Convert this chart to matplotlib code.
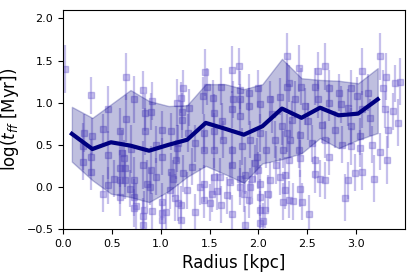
import numpy as np
import matplotlib
matplotlib.use('Agg')
import matplotlib.pyplot as plt

# individual clouds: radius [kpc], log t_ff, error
radius = [0.02, 0.29, 0.46, 0.21, 0.41, 0.20, 0.20, 0.29, 0.29, 0.46,
          0.46, 0.41, 0.30, 0.645, 0.815, 0.73, 0.645, 0.58, 0.84, 0.90,
          0.91, 0.84, 1.01, 1.10, 1.17, 0.58, 0.60, 0.62, 0.63, 0.58,
          0.58, 0.63, 0.73, 0.75, 0.82, 0.815, 0.86, 0.89, 0.90, 1.01,
          1.01, 1.01, 1.01, 1.10, 1.09, 1.17, 1.15, 1.18, 0.82, 0.73,
          0.73, 0.83, 0.91, 0.70, 0.95, 1.45, 1.73, 1.80, 1.23, 1.47,
          1.62, 2.00, 1.81, 1.90, 1.22, 1.29, 1.22, 1.21, 1.43, 1.53,
          1.54, 1.54, 1.63, 1.73, 1.74, 1.81, 1.81, 1.90, 2.02, 2.12,
          2.14, 2.22, 2.24, 2.29, 2.29, 1.18, 1.28, 1.35, 1.44, 1.44,
          1.54, 1.64, 1.73, 1.73, 1.83, 1.91, 1.98, 2.02, 2.08, 2.17,
          2.25, 2.29, 1.16, 1.13, 1.23, 1.27, 1.21, 1.21, 1.35, 1.44,
          1.44, 1.52, 1.62, 1.61, 1.71, 1.73, 1.81, 1.86, 1.90, 1.91,
          2.00, 2.02, 2.02, 2.02, 2.12, 2.22, 2.27, 2.31, 1.40, 1.50,
          1.54, 1.81, 1.85, 1.86, 1.93, 2.02, 2.07, 2.05, 2.25, 2.35,
          2.45, 2.52, 2.43, 2.58, 2.68, 2.63, 2.89, 2.92, 2.99, 3.06,
          3.18, 3.32, 3.24, 3.04, 3.24, 2.68, 2.61, 3.06, 3.31, 3.45,
          3.40, 2.41, 2.31, 2.44, 2.58, 2.72, 2.82, 2.95, 3.01, 3.12,
          3.27, 3.30, 3.38, 3.43, 3.33, 2.27, 2.37, 2.48, 2.61, 2.72,
          2.84, 2.92, 3.06, 3.14, 2.34, 2.51, 2.65, 2.78, 2.95, 3.04,
          2.32, 2.43, 2.55, 2.68, 2.85, 2.95, 3.16, 2.41, 2.31, 2.43,
          2.58, 2.72, 0.52, 0.68, 0.95, 1.05, 1.32, 1.58, 1.68, 1.96,
          2.10, 2.18]
log_tff = [1.40, 1.09, 0.92, 0.64, 0.69, 0.48, 0.30, 0.35, 0.18, 0.38,
           0.02, -0.08, 0.60, 1.31, 1.15, 1.04, 0.81, 0.66, 0.88, 0.89,
           1.02, 0.66, 0.68, 0.66, 1.00, 0.22, 0.40, 0.34, 0.22, -0.12,
           0.08, 0.08, -0.12, -0.23, -0.35, -0.45, 0.04, 0.00, 0.20, 0.36,
           -0.175, -0.31, -0.39, 0.18, -0.04, 0.46, -0.13, -0.19, 0.26, 0.08,
           -0.25, -0.27, -0.29, 0.45, 0.50, 1.36, 1.39, 1.43, 1.17, 1.19,
           1.19, 1.17, 1.15, 1.12, 0.89, 0.94, 0.80, 1.06, 1.08, 1.05,
           0.88, 0.66, 0.78, 0.92, 1.04, 0.84, 1.04, 0.96, 0.98, 1.04,
           0.86, 1.07, 0.72, 1.19, 1.55, 0.52, 0.64, 0.52, 0.44, 0.64,
           0.44, 0.56, 0.44, 0.26, 0.48, 0.56, 0.36, 0.64, 0.44, 0.56,
           0.44, 0.64, 0.32, 0.10, 0.16, -0.04, -0.21, -0.39, -0.30, 0.04,
           -0.15, -0.08, -0.21, 0.12, 0.06, -0.32, 0.00, 0.14, -0.15, 0.00,
           0.20, 0.04, -0.27, -0.43, 0.08, 0.12, -0.04, -0.15, 0.00, -0.19,
           0.12, 0.10, -0.08, -0.45, 0.10, -0.12, -0.27, -0.41, -0.175, -0.17,
           -0.175, -0.32, -0.02, 0.15, 0.08, 0.10, -0.13, 0.08, 0.17, 0.18,
           0.10, 0.32, 0.42, 0.46, 1.55, 1.43, 1.38, 1.37, 1.31, 1.25,
           1.23, 1.41, 1.23, 1.19, 1.19, 1.17, 1.12, 1.17, 1.08, 1.12,
           1.17, 0.92, 0.90, 0.76, 0.68, 0.14, 1.04, 0.96, 1.04, 1.00,
           0.98, 0.94, 0.92, 0.82, 0.80, 0.78, 0.74, 0.68, 0.72, 0.60,
           0.56, 0.62, 0.52, 0.56, 0.50, 0.48, 0.50, 0.44, 0.32, 0.34,
           0.32, 0.36, 0.10, -0.02, 0.12, -0.30, 0.24, -0.05, -0.10, 0.28,
           -0.08, 0.26]
log_err = [0.28, 0.22, 0.28, 0.22, 0.18, 0.28, 0.22, 0.22, 0.22, 0.28,
           0.22, 0.22, 0.22, 0.28, 0.22, 0.28, 0.28, 0.28, 0.22, 0.22,
           0.22, 0.28, 0.22, 0.22, 0.28, 0.22, 0.28, 0.22, 0.22, 0.22,
           0.28, 0.22, 0.22, 0.28, 0.22, 0.28, 0.28, 0.22, 0.28, 0.22,
           0.22, 0.22, 0.22, 0.22, 0.22, 0.28, 0.28, 0.22, 0.28, 0.28,
           0.22, 0.22, 0.22, 0.28, 0.22, 0.28, 0.28, 0.22, 0.22, 0.22,
           0.22, 0.22, 0.22, 0.22, 0.22, 0.22, 0.22, 0.18, 0.22, 0.22,
           0.22, 0.22, 0.22, 0.22, 0.22, 0.22, 0.18, 0.22, 0.22, 0.22,
           0.22, 0.22, 0.22, 0.28, 0.28, 0.22, 0.22, 0.22, 0.22, 0.22,
           0.22, 0.22, 0.22, 0.22, 0.22, 0.22, 0.22, 0.22, 0.22, 0.22,
           0.22, 0.22, 0.22, 0.22, 0.22, 0.22, 0.22, 0.22, 0.22, 0.22,
           0.22, 0.22, 0.22, 0.22, 0.22, 0.22, 0.22, 0.22, 0.22, 0.22,
           0.22, 0.22, 0.22, 0.22, 0.22, 0.22, 0.22, 0.22, 0.22, 0.22,
           0.22, 0.22, 0.22, 0.22, 0.22, 0.22, 0.22, 0.22, 0.22, 0.22,
           0.22, 0.22, 0.22, 0.22, 0.22, 0.22, 0.28, 0.22, 0.22, 0.22,
           0.28, 0.28, 0.22, 0.22, 0.28, 0.28, 0.22, 0.28, 0.28, 0.28,
           0.22, 0.28, 0.22, 0.22, 0.22, 0.22, 0.22, 0.22, 0.22, 0.22,
           0.22, 0.22, 0.22, 0.28, 0.22, 0.22, 0.22, 0.22, 0.22, 0.22,
           0.22, 0.22, 0.22, 0.22, 0.22, 0.22, 0.22, 0.22, 0.22, 0.22,
           0.22, 0.22, 0.22, 0.22, 0.22, 0.22, 0.22, 0.22, 0.22, 0.22,
           0.22, 0.22, 0.22, 0.22, 0.22, 0.22, 0.22, 0.22, 0.22, 0.22,
           0.22, 0.22]

# binned median and spread
bin_r = [0.09, 0.30, 0.49, 0.69, 0.88, 1.08, 1.27, 1.46, 1.66, 1.85,
         2.04, 2.24, 2.44, 2.63, 2.82, 3.02, 3.22]
bin_med = [0.63, 0.45, 0.53, 0.49, 0.43, 0.50, 0.56, 0.76, 0.69, 0.62,
           0.72, 0.93, 0.82, 0.94, 0.85, 0.87, 1.04]
bin_hi = [0.95, 0.82, 0.98, 1.15, 1.02, 0.96, 0.97, 1.22, 1.22, 1.16,
          1.22, 1.52, 1.29, 1.27, 1.26, 1.23, 1.41]
bin_lo = [0.30, 0.08, -0.08, -0.12, -0.18, -0.05, 0.12, 0.25, 0.15, 0.05,
          0.28, 0.33, 0.40, 0.58, 0.46, 0.56, 0.64]

fig = plt.figure(figsize=(4.15, 2.77), dpi=100)
ax = fig.add_axes([0.152, 0.173, 0.824, 0.791])

ax.errorbar(radius, log_tff, yerr=log_err, fmt='s', color='slateblue',
            ms=4.8, elinewidth=1.6, alpha=0.38, zorder=1)
ax.fill_between(bin_r, bin_lo, bin_hi, color='navy', alpha=0.25, zorder=2)
ax.plot(bin_r, bin_med, color='navy', lw=3, zorder=3)

ax.set_xlim(0, 3.5)
ax.set_ylim(-0.5, 2.1)
ax.set_xticks([0.0, 0.5, 1.0, 1.5, 2.0, 2.5, 3.0])
ax.set_yticks([-0.5, 0.0, 0.5, 1.0, 1.5, 2.0])
ax.tick_params(labelsize=8)
ax.set_xlabel('Radius [kpc]', fontsize=12)
ax.set_ylabel(r'log($t_{ff}$ [Myr])', fontsize=12)

fig.savefig('out.png', dpi=100)
